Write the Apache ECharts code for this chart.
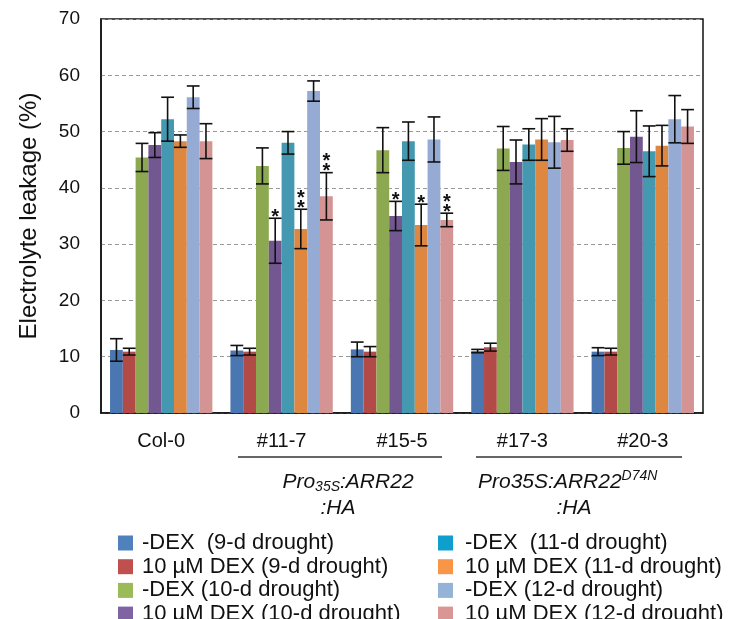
<!DOCTYPE html>
<html><head><meta charset="utf-8">
<script src="https://cdn.jsdelivr.net/npm/echarts@6/dist/echarts.min.js"></script>
<style>html,body{margin:0;padding:0;background:#fff}#c{width:742px;height:619px}</style>
</head><body><div id="c"></div>
<script>
const categories = ['Col-0', '#11-7', '#15-5', '#17-3', '#20-3'];
const seriesNames = ['-DEX  (9-d drought)', '10 µM DEX (9-d drought)', '-DEX (10-d drought)', '10 µM DEX (10-d drought)',
                     '-DEX  (11-d drought)', '10 µM DEX (11-d drought)', '-DEX (12-d drought)', '10 µM DEX (12-d drought)'];
const colors = ['#4a77b2', '#b24a48', '#8ca850', '#735791', '#4499b1', '#de8741', '#95abd3', '#d49494'];
const legendColors = ['#4f81bd', '#c0504d', '#9bbb59', '#8064a2', '#0f9fcf', '#f79646', '#95b3d7', '#d99694'];
// values per series, across categories
const dex9m  = [11.2, 11.1, 11.3, 11.0, 10.9];
const dex9p  = [10.9, 10.9, 10.9, 11.7, 10.9];
const dex10m = [45.4, 43.9, 46.7, 47.0, 47.1];
const dex10p = [47.6, 30.6, 35.0, 44.6, 49.1];
const dex11m = [52.2, 48.0, 48.3, 47.7, 46.5];
const dex11p = [48.3, 32.7, 33.4, 48.6, 47.5];
const dex12m = [56.1, 57.2, 48.6, 48.1, 52.2];
const dex12p = [48.3, 38.5, 34.3, 48.5, 50.9];
// error bar half-lengths
const err9m  = [2.0, 0.9, 1.3, 0.3, 0.7];
const err9p  = [0.6, 0.6, 0.9, 0.7, 0.6];
const err10m = [2.5, 3.2, 4.0, 3.9, 2.9];
const err10p = [2.2, 4.0, 2.6, 3.9, 4.6];
const err11m = [3.9, 2.0, 3.4, 2.8, 4.5];
const err11p = [1.1, 3.5, 3.7, 3.7, 3.6];
const err12m = [2.0, 1.8, 4.0, 4.6, 4.2];
const err12p = [3.1, 4.2, 1.2, 2.0, 3.0];
// significance marks
const stars10p = ['', '*', '*', '', ''];
const stars11p = ['', '**', '*', '', ''];
const stars12p = ['', '**', '**', '', ''];
const yTicks = [0, 10, 20, 30, 40, 50, 60, 70];

const values = [dex9m, dex9p, dex10m, dex10p, dex11m, dex11p, dex12m, dex12p];
const errors = [err9m, err9p, err10m, err10p, err11m, err11p, err12m, err12p];
const stars = [null, null, null, stars10p, null, stars11p, null, stars12p];

const FONT = 'Arial, "Liberation Sans", sans-serif';
const GAP = 0.15, N = 8;

const series = [];
values.forEach((vals, k) => {
  series.push({
    name: seriesNames[k], type: 'bar', data: vals, barGap: '0%', barCategoryGap: (GAP * 100) + '%',
    itemStyle: { color: colors[k] }, z: 2
  });
});
values.forEach((vals, k) => {
  series.push({
    name: 'err' + k, type: 'custom', z: 5,
    data: vals.map((v, i) => [i, v, errors[k][i]]),
    renderItem: function (params, api) {
      const i = api.value(0), v = api.value(1), e = api.value(2);
      const st = stars[k] ? stars[k][i] : '';
      const c = api.coord([i, v]);
      const band = api.size([1, 0])[0];
      const bw = band * (1 - GAP) / N;
      const x = c[0] - band * (1 - GAP) / 2 + bw * (k + 0.5);
      const yt = api.coord([i, v + e])[1];
      const yb = api.coord([i, v - e])[1];
      const hw = bw / 2;
      const ls = { stroke: '#111', lineWidth: 1.6 };
      const children = [
        { type: 'line', shape: { x1: x, y1: yt, x2: x, y2: yb }, style: ls },
        { type: 'line', shape: { x1: x - hw, y1: yt, x2: x + hw, y2: yt }, style: ls },
        { type: 'line', shape: { x1: x - hw, y1: yb, x2: x + hw, y2: yb }, style: ls }
      ];
      if (st) {
        const n = st.length;
        for (let j = 0; j < n; j++) {
          children.push({ type: 'text', style: { text: '*', x: x, y: yt + 10 - (n - j) * 10 - 1,
            fontSize: 20, fontWeight: 'bold', fontFamily: FONT, fill: '#111', align: 'center', verticalAlign: 'middle' } });
        }
      }
      return { type: 'group', children: children };
    }
  });
});

const chart = echarts.init(document.getElementById('c'));
const legendText = (pl) => ({ fontSize: 22, lineHeight: 20, fontFamily: FONT, color: '#111', padding: [0, 0, 0, pl] });
chart.setOption({
  animation: false,
  backgroundColor: '#fff',
  grid: { left: 101, right: 39, top: 19, bottom: 206, show: true, borderColor: '#111', borderWidth: 1.5, backgroundColor: 'transparent' },
  legend: [
    { data: seriesNames.slice(0, 4).map((n, j) => ({ name: n, itemStyle: { color: legendColors[j] } })),
      orient: 'vertical', left: 118, top: 532, width: 310, height: 100, itemWidth: 15, itemHeight: 15, itemGap: 1.7, padding: 0,
      icon: 'rect', textStyle: legendText(4), selectedMode: false },
    { data: seriesNames.slice(4).map((n, j) => ({ name: n, itemStyle: { color: legendColors[j + 4] } })),
      orient: 'vertical', left: 438, top: 532, width: 300, height: 100, itemWidth: 15, itemHeight: 15, itemGap: 1.7, padding: 0,
      icon: 'rect', textStyle: legendText(7), selectedMode: false }
  ],
  xAxis: {
    type: 'category', data: categories,
    axisLine: { lineStyle: { color: '#111', width: 1.5 } }, axisTick: { show: false },
    axisLabel: { fontSize: 20, fontFamily: FONT, color: '#111', margin: 18 }
  },
  yAxis: {
    type: 'value', min: yTicks[0], max: yTicks[yTicks.length - 1], interval: 10,
    name: 'Electrolyte leakage (%)', nameLocation: 'middle', nameGap: 60,
    nameTextStyle: { fontSize: 24, fontFamily: FONT, color: '#111' },
    axisLine: { show: true, lineStyle: { color: '#111', width: 1.5 } }, axisTick: { show: false },
    axisLabel: { fontSize: 19, fontFamily: FONT, color: '#111', margin: 21 },
    splitLine: { lineStyle: { color: '#999', type: [4, 3], width: 1.2 } }
  },
  graphic: [
    { type: 'line', shape: { x1: 238, y1: 457, x2: 442, y2: 457 }, style: { stroke: '#333', lineWidth: 1.5 } },
    { type: 'line', shape: { x1: 476, y1: 457, x2: 682, y2: 457 }, style: { stroke: '#333', lineWidth: 1.5 } },
    { type: 'text', x: 348, y: 482, style: { text: '{i|Pro}{s|35S}{i|:ARR22}', align: 'center', verticalAlign: 'middle',
        rich: { i: { fontSize: 21, fontStyle: 'italic', fontFamily: FONT, fill: '#111' },
                s: { fontSize: 14, fontStyle: 'italic', fontFamily: FONT, fill: '#111', padding: [10, 0, 0, 0] } } } },
    { type: 'text', x: 338, y: 508, style: { text: ':HA', align: 'center', verticalAlign: 'middle', fontSize: 21, fontStyle: 'italic', fontFamily: FONT, fill: '#111' } },
    { type: 'text', x: 478, y: 482, style: { text: '{i|Pro35S:ARR22}{s|D74N}', align: 'left', verticalAlign: 'middle',
        rich: { i: { fontSize: 21, fontStyle: 'italic', fontFamily: FONT, fill: '#111' },
                s: { fontSize: 14, fontStyle: 'italic', fontFamily: FONT, fill: '#111', padding: [0, 0, 12, 0] } } } },
    { type: 'text', x: 574, y: 508, style: { text: ':HA', align: 'center', verticalAlign: 'middle', fontSize: 21, fontStyle: 'italic', fontFamily: FONT, fill: '#111' } }
  ],
  series: series
});
</script></body></html>
